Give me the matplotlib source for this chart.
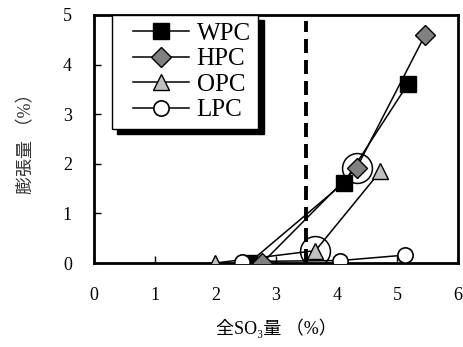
import matplotlib.pyplot as plt
from matplotlib.lines import Line2D
from matplotlib.legend_handler import HandlerLine2D

plt.rcParams['font.family'] = ['Liberation Serif', 'Noto Sans CJK JP']

# Total SO3 content (%) vs expansion (%)
wpc_x = [2.55, 4.12, 5.17]
wpc_y = [0.0, 1.62, 3.6]
hpc_x = [2.77, 4.33, 5.46]
hpc_y = [0.0, 1.92, 4.6]
opc_x = [2.0, 3.65, 4.72]
opc_y = [0.0, 0.25, 1.85]
lpc_x = [2.44, 4.06, 5.13]
lpc_y = [0.03, 0.05, 0.16]

# highlighted points and limit line
ring_x = [4.33, 3.65]
ring_y = [1.92, 0.25]
limit_x = 3.5

fig = plt.figure(figsize=(4.64, 3.47), dpi=100)
ax = fig.add_axes([0.203, 0.242, 0.784, 0.715])

ax.axvline(limit_x, ymin=0, ymax=0.975, color='black', lw=2.8,
           dashes=(3.6, 1.8), zorder=1)

ax.plot(wpc_x, wpc_y, color='black', lw=1.1, marker='s', ms=11,
        mfc='black', mec='black', label='WPC', zorder=3)
ax.plot(hpc_x, hpc_y, color='black', lw=1.1, marker='D', ms=10,
        mfc='#808080', mec='black', mew=1, label='HPC', zorder=4)
ax.plot(opc_x, opc_y, color='black', lw=1.1, marker='^', ms=12,
        mfc='#c0c0c0', mec='black', mew=1, label='OPC', zorder=3)
ax.plot(lpc_x, lpc_y, color='black', lw=1.1, marker='o', ms=11,
        mfc='white', mec='black', mew=1.2, label='LPC', zorder=3)

ax.plot(ring_x, ring_y, ls='none', marker='o', ms=21.5, mfc='none',
        mec='black', mew=1.1, zorder=5)

ax.set_xlim(0, 6)
ax.set_ylim(0, 5)
ax.set_xticks(range(0, 7))
ax.set_yticks(range(0, 6))
ax.tick_params(direction='in', length=5, width=1, labelsize=13)
ax.tick_params(axis='x', pad=17)
ax.tick_params(axis='y', pad=16)
for s in ax.spines.values():
    s.set_linewidth(2)

ax.set_xlabel('全SO₃量 （%）', fontsize=13, labelpad=11)
ax.set_ylabel('膨張量 （%）', fontsize=13, labelpad=20, color='#333333')

leg = ax.legend(loc='upper left', bbox_to_anchor=(0.048, 1.0),
                borderaxespad=0, fontsize=18, handlelength=2.8,
                handletextpad=0.3, labelspacing=0.12, borderpad=0.3,
                fancybox=False, edgecolor='black', framealpha=1,
                handler_map={Line2D: HandlerLine2D(xpad=0.55)},
                shadow={'color': 'black', 'alpha': 1, 'ox': 4, 'oy': -4})
leg.get_frame().set_linewidth(1)

fig.savefig('out.png', dpi=100)
